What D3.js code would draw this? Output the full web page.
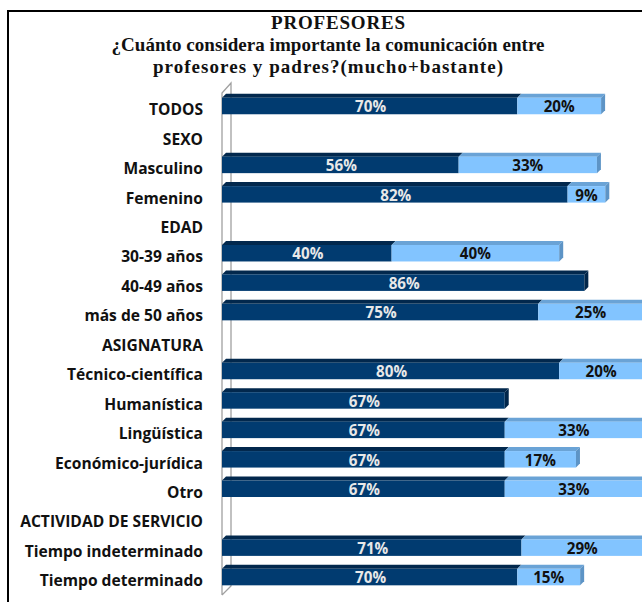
<!DOCTYPE html>
<html><head><meta charset="utf-8">
<script src="https://cdn.jsdelivr.net/npm/d3@7"></script>
<style>body{margin:0;background:#fff}svg{display:block}</style>
</head><body>
<script>
const categories = ["TODOS","SEXO","Masculino","Femenino","EDAD","30-39 años","40-49 años","más de 50 años","ASIGNATURA","Técnico-científica","Humanística","Lingüística","Económico-jurídica","Otro","ACTIVIDAD DE SERVICIO","Tiempo indeterminado","Tiempo determinado"];
const mucho    = [70,null,56,82,null,40,86,75,null,80,67,67,67,67,null,71,70];
const bastante = [20,null,33,9,null,40,0,25,null,20,0,33,17,33,null,29,15];
const titleLines = ["PROFESORES","¿Cuánto considera importante la comunicación  entre","profesores y padres?(mucho+bastante)"];

const W=642,H=602;
const svg=d3.select("body").append("svg").attr("width",W).attr("height",H);

// frame
svg.append("rect").attr("x",8).attr("y",11).attr("width",W).attr("height",H).attr("fill","none").attr("stroke","#000").attr("stroke-width",2);

// title
const titleW=[134,433,350];
svg.append("g").selectAll("text").data(titleLines).join("text")
  .attr("x",(d,i)=>i===0?338:328).attr("y",(d,i)=>29+i*22)
  .attr("text-anchor","middle")
  .attr("textLength",(d,i)=>titleW[i]).attr("lengthAdjust","spacing")
  .attr("font-family","'Liberation Serif', serif").attr("font-weight","bold").attr("font-size",19)
  .attr("fill","#111").text(d=>d);

const x=d3.scaleLinear().domain([0,100]).range([224,643]);
const y=d3.scaleBand().domain(categories).range([91.3,591.8]).paddingInner(0.44).paddingOuter(0.22);
const dep=4;

// wall
const wall=svg.append("g").attr("fill","none").attr("stroke","#a0a0a0").attr("stroke-width",1.3);
wall.append("path").attr("d",`M222,595 L222,93 L231,83 L231,586 L222,595`);

// labels
svg.append("g").selectAll("text").data(categories).join("text")
  .attr("x",203).attr("y",d=>y(d)+y.bandwidth()/2+4+5.2)
  .attr("text-anchor","end")
  .attr("font-family","'Open Sans', sans-serif").attr("font-weight","bold").attr("font-size",15.6)
  .attr("fill","#111").text(d=>d);

const rows=categories.map((c,i)=>({c,m:mucho[i],b:bastante[i]})).filter(r=>r.m!=null);
const g=svg.append("g");
rows.forEach(r=>{
  const y0=y(r.c), y1=y0+y.bandwidth();
  const segs=[{v0:0,v1:r.m,front:"#013b70",top:"#02284d",txt:"#e8e8e8",val:r.m}];
  if(r.b>0) segs.push({v0:r.m,v1:r.m+r.b,front:"#82c4ff",top:"#6aa3d6",txt:"#111",val:r.b});
  segs.forEach((s,k)=>{
    const a=x(s.v0)-(k===0?2:0), b=x(s.v1);
    g.append("path").attr("d",`M${a},${y0}L${b},${y0}L${b+dep},${y0-dep}L${a+dep},${y0-dep}Z`).attr("fill",s.top);
    g.append("rect").attr("x",a).attr("y",y0).attr("width",b-a).attr("height",y1-y0).attr("fill",s.front);
    if(k===segs.length-1){
      g.append("path").attr("d",`M${b},${y0}L${b+dep},${y0-dep}L${b+dep},${y1-dep}L${b},${y1}Z`).attr("fill",k===0?"#01264a":"#5d94c6");
    }
    g.append("text").attr("x",(x(s.v0)+x(s.v1))/2).attr("y",y1-2)
      .attr("text-anchor","middle").attr("font-family","'Open Sans', sans-serif").attr("font-weight","bold").attr("font-size",15.2)
      .attr("fill",s.txt).text(s.val+"%");
  });
});
</script>
</body></html>
